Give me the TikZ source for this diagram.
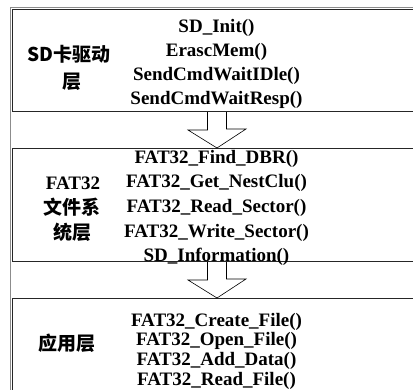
\documentclass[tikz,border=0pt]{standalone}
\usepackage{fontspec}
\setmainfont{Liberation Serif}
\newfontfamily\cjk{Noto Sans CJK SC}
\begin{document}
\begin{tikzpicture}[x=1pt,y=-1pt,
  layer/.style={draw=black!85,line width=1pt,anchor=north west,minimum width=409pt,inner sep=0pt},
  fn/.style={font=\fontsize{19}{24}\selectfont\bfseries,inner sep=0pt,anchor=base},
  lbl/.style={font=\fontsize{19}{24}\selectfont\bfseries,inner sep=0pt,anchor=base},
  blockarrow/.style={draw=black,line width=0.6pt}]
\useasboundingbox (0,0) rectangle (413,389);
% outer shadow frame
\draw[black!45,line width=1pt] (10.3,395) -- (10.3,7.3) -- (420,7.3);
% layer boxes
\node[layer,minimum height=102pt] (sdbox) at (12,9) {};
\node[layer,minimum height=113pt] (fatbox) at (12,148) {};
\node[layer,minimum height=120pt] (appbox) at (12,298) {};
% block arrows
\draw[blockarrow] ([xshift=-9.5pt]sdbox.south) -- ++(0,18) -- ++(-19.5,0)
  -- (fatbox.north) -- ++(29,-19) -- ++(-19.5,0) -- ([xshift=9.5pt]sdbox.south);
\draw[blockarrow] ([xshift=-9.5pt]fatbox.south) -- ++(0,18) -- ++(-19.5,0)
  -- (appbox.north) -- ++(29,-19) -- ++(-19.5,0) -- ([xshift=9.5pt]fatbox.south);
% SD layer
\node[lbl] (sdl1) at (69,61) {\cjk SD卡驱动};
\node[lbl] (sdl2) at (72,88) {\cjk 层};
\foreach \t [count=\i] in {SD\_Init(),ErascMem(),SendCmdWaitIDle(),SendCmdWaitResp()}
  \node[fn] (sdf\i) at (216.5,{32+24*(\i-1)}) {\t};
% FAT32 layer
\node[lbl] (fatl1) at (73,189) {FAT32};
\node[lbl] (fatl2) at (72,214) {\cjk 文件系};
\node[lbl] (fatl3) at (72,239) {\cjk 统层};
\foreach \t [count=\i] in {FAT32\_Find\_DBR(),FAT32\_Get\_NestClu(),FAT32\_Read\_Sector(),FAT32\_Write\_Sector(),SD\_Information()}
  \node[fn] (fatf\i) at (216.5,{163+24.7*(\i-1)}) {\t};
% application layer
\node[lbl] (appl1) at (67,350) {\cjk 应用层};
\foreach \t [count=\i] in {FAT32\_Create\_File(),FAT32\_Open\_File(),FAT32\_Add\_Data(),FAT32\_Read\_File()}
  \node[fn] (appf\i) at (216.5,{326+19.8*(\i-1)}) {\t};
\end{tikzpicture}
\end{document}
